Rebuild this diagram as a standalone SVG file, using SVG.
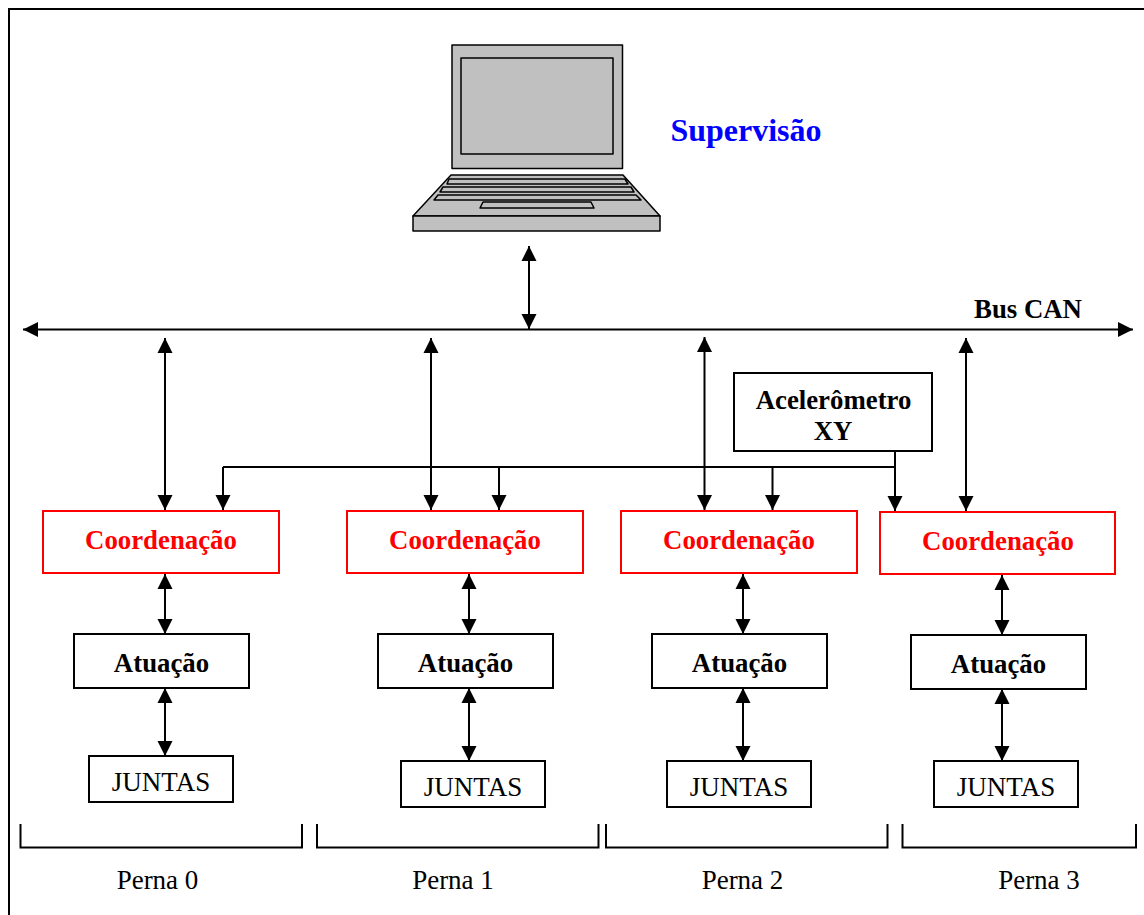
<svg xmlns="http://www.w3.org/2000/svg" width="1144" height="915" viewBox="0 0 1144 915">
<defs>
<style>
text{font-family:"Liberation Serif","Times New Roman",serif;text-anchor:middle;fill:#000}
.b{font-weight:700;font-size:26.800px}
.r{font-size:27px}
.red{fill:#f00}
.cb{fill:#fff;stroke:#f00;stroke-width:2}
.bb{fill:#fff;stroke:#000;stroke-width:2}
.a{fill:none;stroke:#000;stroke-width:2;marker-end:url(#h)}
.d{fill:none;stroke:#000;stroke-width:2;marker-start:url(#h);marker-end:url(#h)}
.l{fill:none;stroke:#000;stroke-width:2}
.lp{fill:#c0c0c0;stroke:#000;stroke-width:1.500;stroke-linejoin:round}
</style>
<marker id="h" markerUnits="userSpaceOnUse" markerWidth="16" markerHeight="16" refX="15" refY="8" orient="auto-start-reverse"><path d="M0,0.5 L15,8 L0,15.500z" fill="#000"/></marker>
</defs>
<rect id="frame" x="9" y="9" width="1145" height="915" fill="#fff" stroke="#000" stroke-width="2"/>
<g id="laptop">
<rect class="lp" x="452" y="45" width="170.500" height="123.500"/>
<rect class="lp" x="461" y="58" width="152" height="96"/>
<polygon class="lp" points="451,175 623,175 660,216 413,216"/>
<rect class="lp" x="413" y="216" width="247" height="15"/>
<polygon class="lp" points="449,179 625,179 628,184 447,184"/>
<polygon class="lp" points="443,187 631,187 634,192 440,192"/>
<polygon class="lp" points="438,195 636,195 641,200 434,200"/>
<polygon class="lp" points="483,202 591,202 594,208 480,208"/>
</g>
<text id="supervisao" x="746" y="141" class="b" style="font-size:32px;fill:#00f">Supervisão</text>
<g id="connectors">
<line class="d" x1="23" y1="329.500" x2="1133" y2="329.500"/>
<line class="d" x1="529" y1="246" x2="529" y2="329"/>
<line class="d" x1="165" y1="338" x2="165" y2="510"/>
<line class="d" x1="431" y1="338" x2="431" y2="510"/>
<line class="d" x1="704.500" y1="337" x2="704.500" y2="510"/>
<line class="d" x1="966" y1="338" x2="966" y2="511"/>
<path class="l" d="M223,467H895"/>
<line class="a" x1="223" y1="467" x2="223" y2="510"/>
<line class="a" x1="499" y1="467" x2="499" y2="510"/>
<line class="a" x1="772.500" y1="467" x2="772.500" y2="510"/>
<line class="a" x1="895" y1="451" x2="895" y2="511"/>
<line class="d" x1="165" y1="574" x2="165" y2="634"/>
<line class="d" x1="469" y1="574" x2="469" y2="634"/>
<line class="d" x1="743" y1="574" x2="743" y2="634"/>
<line class="d" x1="1002" y1="575" x2="1002" y2="635"/>
<line class="d" x1="165" y1="688" x2="165" y2="756"/>
<line class="d" x1="469" y1="688" x2="469" y2="761"/>
<line class="d" x1="743" y1="688" x2="743" y2="761"/>
<line class="d" x1="1002" y1="689" x2="1002" y2="761"/>
</g>
<text id="bus" x="1028" y="318" class="b">Bus CAN</text>
<g id="acelerometro"><rect class="bb" x="734" y="373" width="198" height="78"/><text x="833.500" y="409" class="b">Acelerômetro</text><text x="833" y="440" class="b">XY</text></g>
<g id="coord0"><rect class="cb" x="43" y="511" width="236" height="62"/><text x="161" y="548.500" class="b red">Coordenação</text></g>
<g id="coord1"><rect class="cb" x="347" y="511" width="236" height="62"/><text x="465" y="548.500" class="b red">Coordenação</text></g>
<g id="coord2"><rect class="cb" x="621" y="511" width="236" height="62"/><text x="739" y="548.500" class="b red">Coordenação</text></g>
<g id="coord3"><rect class="cb" x="880" y="512" width="235" height="62"/><text x="998" y="549.500" class="b red">Coordenação</text></g>
<g id="atuacao0"><rect class="bb" x="74" y="634" width="175" height="54"/><text x="161.500" y="672" class="b">Atuação</text></g>
<g id="atuacao1"><rect class="bb" x="378" y="634" width="175" height="54"/><text x="465.500" y="672" class="b">Atuação</text></g>
<g id="atuacao2"><rect class="bb" x="652" y="634" width="175" height="54"/><text x="739.500" y="672" class="b">Atuação</text></g>
<g id="atuacao3"><rect class="bb" x="911" y="635" width="175" height="54"/><text x="998.500" y="673" class="b">Atuação</text></g>
<g id="juntas0"><rect class="bb" x="89" y="756" width="144" height="46"/><text x="161" y="791" class="r">JUNTAS</text></g>
<g id="juntas1"><rect class="bb" x="401" y="761" width="144" height="46"/><text x="473" y="796" class="r">JUNTAS</text></g>
<g id="juntas2"><rect class="bb" x="667" y="761" width="144" height="46"/><text x="739" y="796" class="r">JUNTAS</text></g>
<g id="juntas3"><rect class="bb" x="934" y="761" width="144" height="46"/><text x="1006" y="796" class="r">JUNTAS</text></g>
<g id="perna0"><path class="l" d="M20.500,824V847.500H302V824"/><text x="157.500" y="889" class="r">Perna 0</text></g>
<g id="perna1"><path class="l" d="M317,824V847.500H598.500V824"/><text x="453" y="889" class="r">Perna 1</text></g>
<g id="perna2"><path class="l" d="M606,824V847.500H887.500V824"/><text x="742.500" y="889" class="r">Perna 2</text></g>
<g id="perna3"><path class="l" d="M902.500,824V847.500H1136V824"/><text x="1039" y="889" class="r">Perna 3</text></g>
</svg>
